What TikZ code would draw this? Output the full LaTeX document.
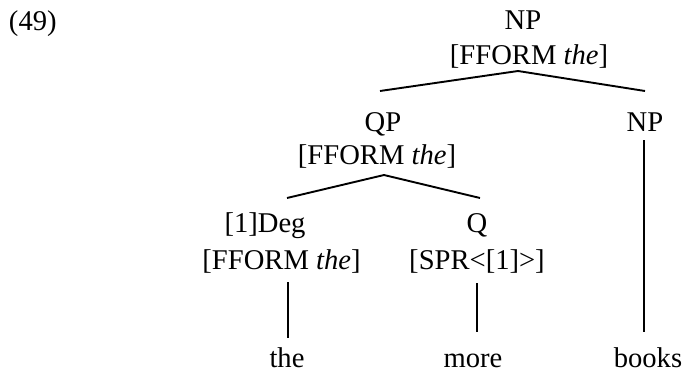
\documentclass[tikz,border=0pt]{standalone}
\usepackage{fontspec}
\setmainfont{Liberation Serif}
\usetikzlibrary{calc}
\begin{document}
\begin{tikzpicture}[x=1pt,y=-1pt,
  lbl/.style={inner sep=0pt,outer sep=0pt,anchor=base,font=\fontsize{28.6pt}{34pt}\selectfont},
  edge/.style={line width=1.9pt}]
\useasboundingbox (0,0) rectangle (684,372);
\node[lbl,anchor=base west] (ex) at (9,30) {(49)};
\node[lbl] (np)   at (523,29)  {NP};
\node[lbl] (npf)  at (529,64)  {[FFORM \textit{the}]};
\node[lbl] (qp)   at (383,131) {QP};
\node[lbl] (qpf)  at (377,164) {[FFORM \textit{the}]};
\node[lbl] (np2)  at (645,131) {NP};
\node[lbl] (deg)  at (265,232) {[1]Deg};
\node[lbl] (degf) at (281.5,269) {[FFORM \textit{the}]};
\node[lbl] (q)    at (477,232) {Q};
\node[lbl] (qf)   at (477,269) {[SPR<[1]>]};
\node[lbl] (w1)   at (287,367) {the};
\node[lbl] (w2)   at (473,367) {more};
\node[lbl] (w3)   at (648,367) {books};
% top NP branches
\draw[edge] ($(qp.base)+(-3,-40)$) -- ($(np.base|-npf.base)+(-5,7)$) -- ($(np2.base)+(0,-40)$);
% QP branches
\draw[edge] ($(w1.base|-deg.base)+(0,-34)$) -- ($(qp.base|-qpf.base)+(1,11)$) -- ($(q.base)+(3,-34)$);
% unary branches
\draw[edge] ($(w1.base|-degf.base)+(1,13)$) -- ($(w1.base)+(1,-29)$);
\draw[edge] ($(q.base|-qf.base)+(0,14)$) -- ($(q.base|-w2.base)+(0,-35)$);
\draw[edge] ($(np2.base)+(-1,9)$) -- ($(np2.base|-w3.base)+(-1,-35)$);
\end{tikzpicture}
\end{document}
